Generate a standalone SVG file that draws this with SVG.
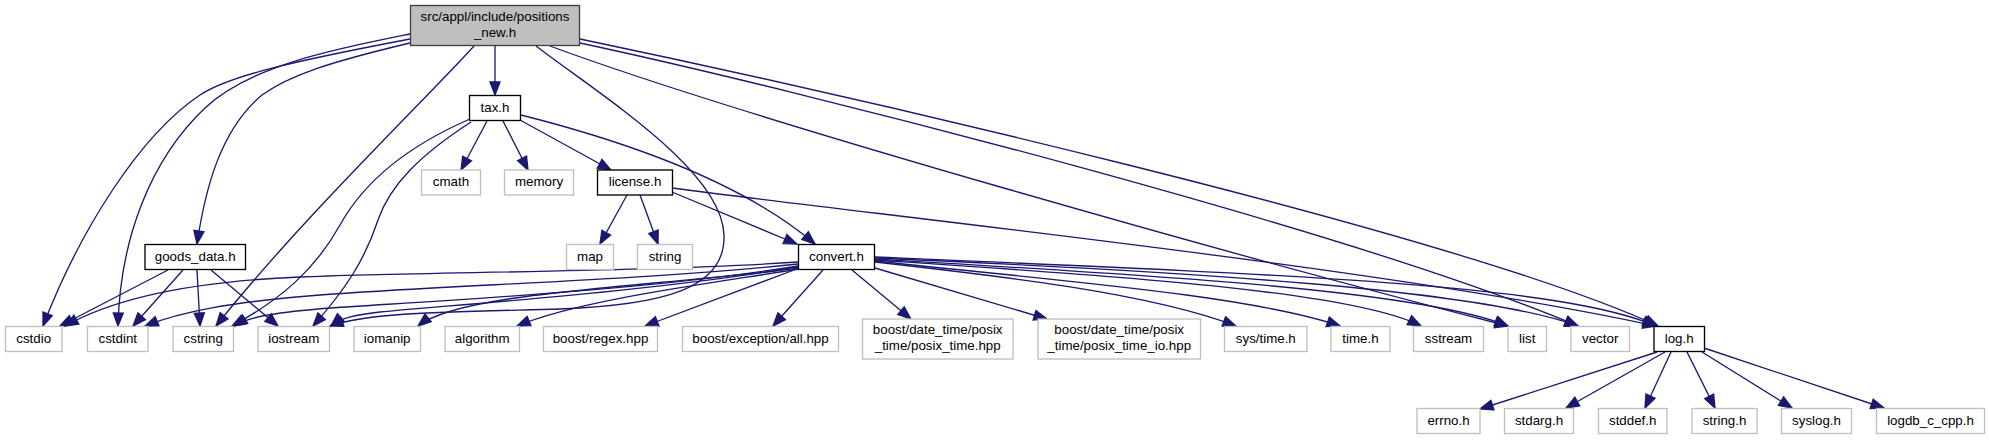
<svg xmlns="http://www.w3.org/2000/svg" width="1989" height="440" viewBox="0 0 1989 440">
<style>
.e{fill:none;stroke:#191970;stroke-width:1.33;marker-end:url(#a)}
.n rect{fill:#fff;stroke:#000;stroke-width:1.33}
.l rect{fill:#fff;stroke:#bfbfbf;stroke-width:1.33}
.r rect{fill:#bfbfbf;stroke:#404040;stroke-width:1.33}
text{font-family:"Liberation Sans",Arial,Helvetica,sans-serif;font-size:13.33px;text-anchor:middle;fill:#000}
</style>
<defs>
<marker id="a" markerUnits="userSpaceOnUse" markerWidth="16" markerHeight="14" refX="13" refY="5" orient="auto" overflow="visible">
<path d="M0,0 L13,5 L0,10 z" fill="#191970" stroke="#191970" stroke-width="1.33"/>
</marker>
</defs>
<rect width="1989" height="440" fill="#fff"/>
<g id="edges">
<path class="e" d="M495,46 L495,95"/>
<path class="e" d="M410,39 C300,60 230,75 200,95 C140,135 80,230 43,326"/>
<path class="e" d="M410,34 C340,48 250,65 205,108 C150,160 120,240 118,326"/>
<path class="e" d="M410,43 C330,62 290,75 262,95 C220,130 205,190 197,244"/>
<path class="e" d="M474,46 C430,95 300,220 216,326"/>
<path class="e" d="M536,46 C600,95 722,170 724,235 C726,290 660,305 560,309 C450,312 370,312 330,326"/>
<path class="e" d="M550,46 C750,120 1250,260 1508,326"/>
<path class="e" d="M580,43 C800,90 1350,230 1578,326"/>
<path class="e" d="M580,39 C800,85 1450,230 1658,326"/>
<path class="e" d="M470,119 C410,145 365,180 340,225 C315,270 280,300 232,326"/>
<path class="e" d="M471,122 C420,155 390,185 378,220 C365,260 345,290 313,326"/>
<path class="e" d="M487,121 L461,170"/>
<path class="e" d="M503,121 L528,170"/>
<path class="e" d="M520,120 L611,170"/>
<path class="e" d="M521,115 C620,140 740,180 815,244"/>
<path class="e" d="M627,195 L600,244"/>
<path class="e" d="M640,195 L658,244"/>
<path class="e" d="M672,192 L797,244"/>
<path class="e" d="M672,188 C900,218 1400,270 1656,326"/>
<path class="e" d="M168,270 L60,326"/>
<path class="e" d="M183,270 L133,326"/>
<path class="e" d="M197,270 L200,326"/>
<path class="e" d="M211,270 L278,326"/>
<path class="e" d="M798,262 C650,272 420,272 300,277 C200,281 120,295 65,326"/>
<path class="e" d="M798,264 C650,280 450,285 320,295 C230,302 180,312 145,326"/>
<path class="e" d="M798,266 C650,290 450,300 330,308 C280,312 250,316 234,326"/>
<path class="e" d="M798,267 C650,292 450,305 380,312 C355,315 340,318 331,326"/>
<path class="e" d="M799,268 C640,288 460,292 418,326"/>
<path class="e" d="M799,269 C700,285 580,300 517,326"/>
<path class="e" d="M794,270 L645,326"/>
<path class="e" d="M823,270 L773,326"/>
<path class="e" d="M852,270 L911,319"/>
<path class="e" d="M875,268 L1047,319"/>
<path class="e" d="M875,262 C1000,276 1150,293 1236,326"/>
<path class="e" d="M875,261 C1050,280 1250,295 1340,326"/>
<path class="e" d="M875,260 C1100,275 1350,290 1421,326"/>
<path class="e" d="M875,259 C1150,275 1420,290 1508,326"/>
<path class="e" d="M875,258 C1200,272 1480,290 1578,326"/>
<path class="e" d="M875,257 C1300,275 1560,285 1656,326"/>
<path class="e" d="M1657,352 L1480,409"/>
<path class="e" d="M1665,352 L1566,408"/>
<path class="e" d="M1671,352 L1645,408"/>
<path class="e" d="M1687,352 L1715,408"/>
<path class="e" d="M1702,352 L1792,408"/>
<path class="e" d="M1704,348 L1884,408"/>
</g>
<g id="root" class="r"><rect x="410.5" y="5.5" width="169" height="40"/><text x="495" y="21">src/appl/include/positions</text><text x="495" y="36.5">_new.h</text></g>
<g id="tax" class="n"><rect x="469.5" y="95.5" width="51" height="25"/><text x="495" y="111.5">tax.h</text></g>
<g id="cmath" class="l"><rect x="421.5" y="170" width="59" height="25"/><text x="451" y="186">cmath</text></g>
<g id="memory" class="l"><rect x="504.5" y="170" width="69" height="25"/><text x="539" y="186">memory</text></g>
<g id="license" class="n"><rect x="597.5" y="170" width="75" height="25"/><text x="635" y="186">license.h</text></g>
<g id="goods_data" class="n"><rect x="145" y="244.5" width="100.5" height="25"/><text x="195.2" y="260.5">goods_data.h</text></g>
<g id="map" class="l"><rect x="566.5" y="244.5" width="47" height="25"/><text x="590" y="260.5">map</text></g>
<g id="string" class="l"><rect x="637.5" y="244.5" width="55" height="25"/><text x="665" y="260.5">string</text></g>
<g id="convert" class="n"><rect x="798.5" y="244.5" width="76" height="25"/><text x="836.5" y="260.5">convert.h</text></g>
<g id="cstdio" class="l"><rect x="5.5" y="326.5" width="56.5" height="25"/><text x="33.7" y="342.5">cstdio</text></g>
<g id="cstdint" class="l"><rect x="87.5" y="326.5" width="60.5" height="25"/><text x="117.8" y="342.5">cstdint</text></g>
<g id="cstring" class="l"><rect x="173" y="326.5" width="60.5" height="25"/><text x="203.2" y="342.5">cstring</text></g>
<g id="iostream" class="l"><rect x="258" y="326.5" width="71.5" height="25"/><text x="293.8" y="342.5">iostream</text></g>
<g id="iomanip" class="l"><rect x="354" y="326.5" width="66.5" height="25"/><text x="387.2" y="342.5">iomanip</text></g>
<g id="algorithm" class="l"><rect x="445" y="326.5" width="74.5" height="25"/><text x="482.2" y="342.5">algorithm</text></g>
<g id="regex" class="l"><rect x="543.5" y="326.5" width="114" height="25"/><text x="600.5" y="342.5">boost/regex.hpp</text></g>
<g id="exception" class="l"><rect x="682.5" y="326.5" width="156" height="25"/><text x="760.5" y="342.5">boost/exception/all.hpp</text></g>
<g id="posix_time" class="l"><rect x="862.5" y="319" width="150.5" height="40"/><text x="937.7" y="334">boost/date_time/posix</text><text x="937.7" y="349.5">_time/posix_time.hpp</text></g>
<g id="posix_time_io" class="l"><rect x="1038" y="319" width="162.5" height="40"/><text x="1119.2" y="334">boost/date_time/posix</text><text x="1119.2" y="349.5">_time/posix_time_io.hpp</text></g>
<g id="systime" class="l"><rect x="1224.5" y="326.5" width="82.5" height="25"/><text x="1265.8" y="342.5">sys/time.h</text></g>
<g id="timeh" class="l"><rect x="1331" y="326.5" width="59" height="25"/><text x="1360.5" y="342.5">time.h</text></g>
<g id="sstream" class="l"><rect x="1413.5" y="326.5" width="70" height="25"/><text x="1448.5" y="342.5">sstream</text></g>
<g id="list" class="l"><rect x="1508" y="326.5" width="38.5" height="25"/><text x="1527.2" y="342.5">list</text></g>
<g id="vector" class="l"><rect x="1571" y="326.5" width="58.5" height="25"/><text x="1600.2" y="342.5">vector</text></g>
<g id="log" class="n"><rect x="1654" y="326.5" width="50.5" height="25"/><text x="1679.2" y="342.5">log.h</text></g>
<g id="errno" class="l"><rect x="1417" y="408.5" width="63" height="25"/><text x="1448.5" y="424.5">errno.h</text></g>
<g id="stdarg" class="l"><rect x="1504.5" y="408.5" width="69" height="25"/><text x="1539" y="424.5">stdarg.h</text></g>
<g id="stddef" class="l"><rect x="1598.5" y="408.5" width="68.5" height="25"/><text x="1632.7" y="424.5">stddef.h</text></g>
<g id="stringh" class="l"><rect x="1692" y="408.5" width="65" height="25"/><text x="1724.5" y="424.5">string.h</text></g>
<g id="syslog" class="l"><rect x="1781.5" y="408.5" width="70" height="25"/><text x="1816.5" y="424.5">syslog.h</text></g>
<g id="logdb" class="l"><rect x="1876.5" y="408.5" width="108" height="25"/><text x="1930.5" y="424.5">logdb_c_cpp.h</text></g>
</svg>
